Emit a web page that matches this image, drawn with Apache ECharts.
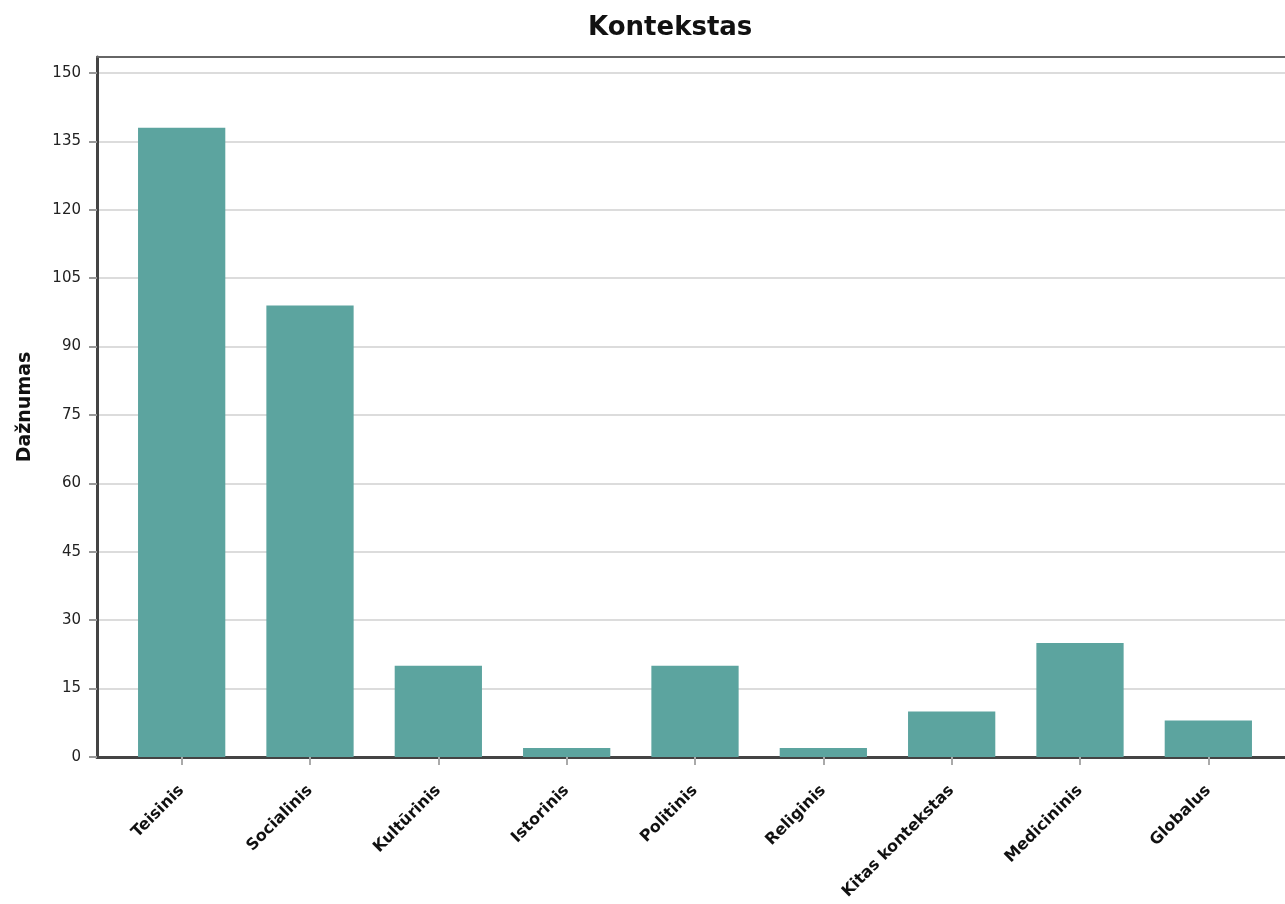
<!DOCTYPE html>
<html><head><meta charset="utf-8">
<script src="https://cdn.jsdelivr.net/npm/echarts@6/dist/echarts.min.js"></script>
<style>html,body{margin:0;padding:0;background:#fff}#c{width:1285px;height:904px}</style>
</head><body><div id="c"></div>
<script>
const categories = ["Teisinis","Socialinis","Kultūrinis","Istorinis","Politinis","Religinis","Kitas kontekstas","Medicininis","Globalus"];
const values = [138, 99, 20, 2, 20, 2, 10, 25, 8];
const yTicks = [0,15,30,45,60,75,90,105,120,135,150];
const titleText = "Kontekstas";
const yName = "Dažnumas";

const FONT = "DejaVu Sans";
const chart = echarts.init(document.getElementById('c'), null, {renderer:'canvas'});
const yMax = 153.5;
chart.setOption({
  animation:false,
  backgroundColor:'#ffffff',
  title:{text:titleText,left:583,top:10,textStyle:{fontFamily:FONT,fontWeight:'bold',fontSize:26,color:'#111'}},
  grid:[
    {left:97,right:-10,top:57,bottom:147},
    {left:117.5,right:12.5,top:57,bottom:147}
  ],
  xAxis:[
    {gridIndex:0,type:'value',min:0,max:1,position:'bottom',axisLine:{show:true,lineStyle:{color:'#444',width:3}},axisTick:{show:false},axisLabel:{show:false},splitLine:{show:false}},
    {gridIndex:0,type:'value',min:0,max:1,position:'top',axisLine:{show:true,lineStyle:{color:'#666',width:2}},axisTick:{show:false},axisLabel:{show:false},splitLine:{show:false}},
    {gridIndex:1,type:'category',data:categories,boundaryGap:true,axisLine:{show:false},
      axisTick:{show:true,alignWithLabel:true,length:8,lineStyle:{color:'#aaa',width:2}},
      axisLabel:{rotate:45,interval:0,margin:31,fontFamily:FONT,fontWeight:'bold',fontSize:16,color:'#111'}}
  ],
  yAxis:[
    {gridIndex:0,type:'value',min:0,max:yMax,interval:15,
      axisLine:{show:true,lineStyle:{color:'#444',width:3}},
      axisTick:{show:true,length:8,customValues:yTicks,lineStyle:{color:'#999',width:2}},
      axisLabel:{fontFamily:FONT,fontSize:15,color:'#222',margin:16,customValues:yTicks},
      splitLine:{show:true,lineStyle:{color:'#dcdcdc',width:2}},
      name:yName,nameLocation:'middle',nameGap:62,nameRotate:90,
      nameTextStyle:{fontFamily:FONT,fontWeight:'bold',fontSize:19,color:'#111'}},
    {gridIndex:1,type:'value',min:0,max:yMax,interval:15,show:false,splitLine:{show:false}}
  ],
  series:[{type:'bar',xAxisIndex:2,yAxisIndex:1,data:values,barCategoryGap:'32%',
    itemStyle:{color:'#5ca49f'},z:1}]
});
</script></body></html>
